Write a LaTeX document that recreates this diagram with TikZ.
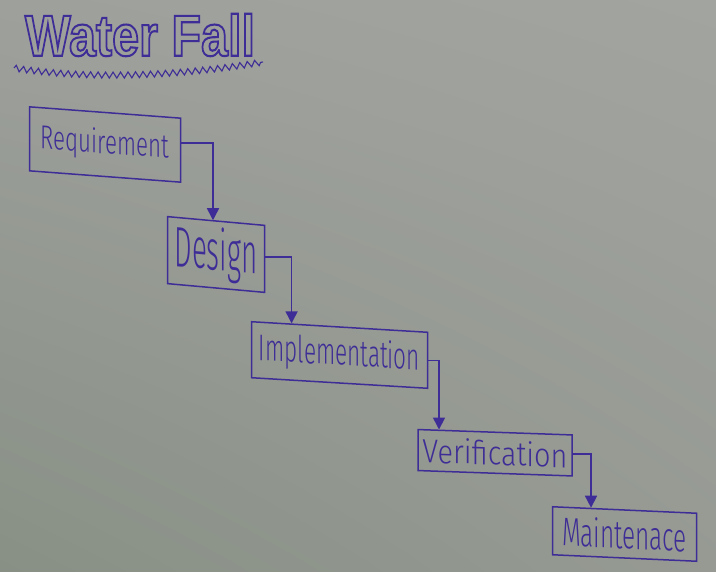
\documentclass[tikz,border=0pt]{standalone}
\usepackage{fontspec}
\usepackage{graphicx}
\usetikzlibrary{arrows.meta,calc,decorations.pathmorphing,shadings}
\newfontfamily\handfont{Fira Sans Light}
\newfontfamily\titlefont{Liberation Sans}
\definecolor{ink}{RGB}{62,45,150}
\definecolor{boardTL}{RGB}{158,160,156}
\definecolor{boardTR}{RGB}{162,164,160}
\definecolor{boardBL}{RGB}{136,144,133}
\definecolor{boardBR}{RGB}{150,154,147}
\newcommand{\hollowtext}[1]{\special{pdf:literal direct 0.243 0.176 0.588 RG 0.36 w 1 Tr}#1\special{pdf:literal direct 0 Tr}}
\begin{document}
\begin{tikzpicture}[x=1pt,y=-1pt,
  stage/.style={draw=ink, line width=1.5pt, inner sep=0pt, text=ink, font=\handfont},
  flow/.style={draw=ink, line width=1.5pt, -{Triangle[width=12pt,length=12pt]}}]
\shade[upper left=boardTL, upper right=boardTR, lower left=boardBL, lower right=boardBR] (0,0) rectangle (716,572);
\useasboundingbox (0,0) rectangle (716,572);

% title
\node[inner sep=0pt, text=ink] (title) at (140,35)
  {\resizebox{230pt}{42pt}{\titlefont\bfseries\hollowtext{Water Fall}}};
\draw[ink, line width=1.1pt, decorate, decoration={zigzag, segment length=7.5pt, amplitude=3pt}]
  (14,68) .. controls (90,80) and (180,76) .. (263,62);

% stages
\node[stage, minimum width=151pt, minimum height=64pt, yslant=-0.075] (req) at (105,144.5)
  {\resizebox{128pt}{25pt}{Requirement}};
\node[stage, minimum width=97pt, minimum height=67pt, yslant=-0.09] (des) at (216,254.5)
  {\resizebox{83pt}{43pt}{Design}};
\node[stage, minimum width=176pt, minimum height=56pt, yslant=-0.06] (imp) at (339.5,355)
  {\resizebox{161pt}{28pt}{Implementation}};
\node[stage, minimum width=154pt, minimum height=41pt, yslant=-0.035] (ver) at (495,452.75)
  {\resizebox{145pt}{25pt}{Verification}};
\node[stage, minimum width=144pt, minimum height=48pt, yslant=-0.045] (mai) at (624.5,534)
  {\resizebox{125pt}{30pt}{Maintenace}};

% connectors
\draw[flow] ([yshift=7pt]req.east) -| ([xshift=-3pt]des.north);
\draw[flow] ([yshift=2pt]des.east) -| ($(imp.north west)!0.23!(imp.north east)$);
\draw[flow] (imp.east) -| ($(ver.north west)!0.14!(ver.north east)$);
\draw[flow] ([yshift=1.5pt]ver.east) -| ($(mai.north west)!0.27!(mai.north east)$);
\end{tikzpicture}
\end{document}
